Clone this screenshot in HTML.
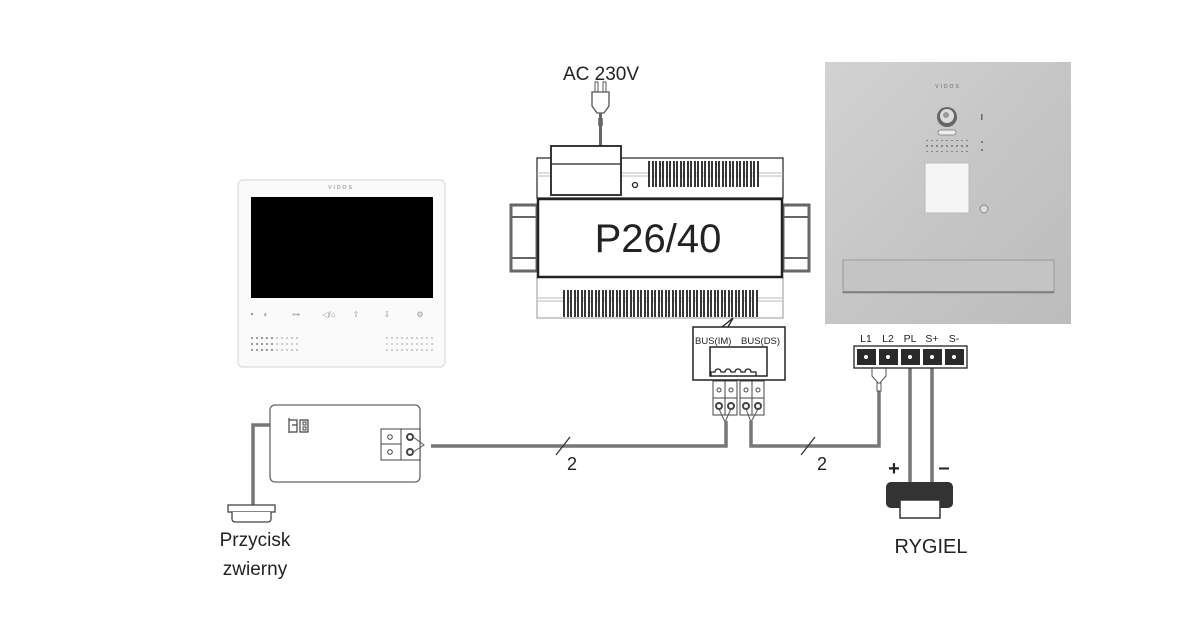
<!DOCTYPE html>
<html><head><meta charset="utf-8"><style>
html,body{margin:0;padding:0;background:#fff;}
svg{display:block;}
text{font-family:"Liberation Sans",sans-serif;}
</style></head><body>
<svg width="1200" height="624" viewBox="0 0 1200 624" xmlns="http://www.w3.org/2000/svg">
<defs>
 <pattern id="ventT" x="648" y="0" width="7" height="40" patternUnits="userSpaceOnUse">
  <rect x="1" y="0" width="4" height="40" rx="1.5" fill="#fff" stroke="#222" stroke-width="1.8"/>
 </pattern>
 <pattern id="ventB" x="563" y="0" width="7" height="40" patternUnits="userSpaceOnUse">
  <rect x="1" y="0" width="4" height="40" rx="1.5" fill="#fff" stroke="#222" stroke-width="1.8"/>
 </pattern>
 <linearGradient id="steel" x1="0" y1="0" x2="1" y2="1">
  <stop offset="0" stop-color="#d2d2d2"/><stop offset="0.5" stop-color="#c6c6c6"/><stop offset="1" stop-color="#bcbcbc"/>
 </linearGradient>
 <pattern id="dots" width="5" height="6" patternUnits="userSpaceOnUse"><circle cx="2" cy="2" r="0.9" fill="#aaa"/></pattern>
 <pattern id="dotsD" width="5" height="6" patternUnits="userSpaceOnUse"><circle cx="2" cy="2" r="0.9" fill="#555"/></pattern>
</defs>

<!-- Monitor -->
<rect x="238" y="180" width="207" height="187" rx="5" fill="#fafafa" stroke="#e2e2e2" stroke-width="1.5"/>
<text x="341" y="189" font-size="5" fill="#777" text-anchor="middle" letter-spacing="2">VIDOS</text>
<rect x="251" y="197" width="182" height="101" fill="#000"/>
<g fill="#999" font-size="8" text-anchor="middle">
 <circle cx="252" cy="314" r="1.2"/>
 <text x="266" y="317">◐</text><text x="296" y="317">⊶</text><text x="329" y="317">◁/⌂</text>
 <text x="356" y="317">⇧</text><text x="387" y="317">⇩</text><text x="420" y="317">⚙</text>
</g>
<rect x="250" y="333" width="25" height="21" fill="url(#dotsD)"/>
<rect x="275" y="333" width="25" height="21" fill="url(#dots)"/>
<rect x="383" y="333" width="50" height="21" fill="url(#dots)"/>

<!-- AC plug -->
<text x="601" y="80" font-size="19" fill="#222" text-anchor="middle">AC 230V</text>
<rect x="595" y="82" width="3" height="10" fill="#fff" stroke="#555"/>
<rect x="603" y="82" width="3" height="10" fill="#fff" stroke="#555"/>
<path d="M592 92 H609 V106 L604 113 H597 L592 106 Z" fill="#fff" stroke="#555" stroke-width="1.3"/>
<rect x="598" y="118" width="5" height="8" fill="#888"/>
<line x1="600.5" y1="113" x2="600.5" y2="146" stroke="#666" stroke-width="3"/>

<!-- P26/40 -->
<rect x="537" y="158" width="246" height="40" fill="#fff" stroke="#333" stroke-width="1.3"/>
<line x1="537" y1="173" x2="783" y2="173" stroke="#bbb"/><line x1="537" y1="176" x2="783" y2="176" stroke="#bbb"/>
<rect x="648" y="161" width="111" height="26" fill="url(#ventT)"/>
<rect x="551" y="146" width="70" height="49" fill="#fff" stroke="#222" stroke-width="1.8"/>
<line x1="551" y1="164" x2="621" y2="164" stroke="#222" stroke-width="1.3"/>
<circle cx="635" cy="185" r="2.5" fill="none" stroke="#222" stroke-width="1.3"/>
<rect x="511" y="205" width="26" height="66" fill="#fff" stroke="#666" stroke-width="3"/>
<rect x="783" y="205" width="26" height="66" fill="#fff" stroke="#666" stroke-width="3"/>
<line x1="511" y1="217" x2="537" y2="217" stroke="#666" stroke-width="2"/>
<line x1="511" y1="258" x2="537" y2="258" stroke="#666" stroke-width="2"/>
<line x1="783" y1="217" x2="809" y2="217" stroke="#666" stroke-width="2"/>
<line x1="783" y1="258" x2="809" y2="258" stroke="#666" stroke-width="2"/>
<rect x="537" y="277" width="246" height="41" fill="#fff" stroke="#999" stroke-width="1"/>
<line x1="537" y1="298" x2="783" y2="298" stroke="#bbb"/><line x1="537" y1="301" x2="783" y2="301" stroke="#bbb"/>
<rect x="563" y="290" width="195" height="27" fill="url(#ventB)"/>
<rect x="538" y="199" width="244" height="78" fill="#fff" stroke="#222" stroke-width="2.5"/>
<text x="658" y="252" font-size="40" fill="#222" text-anchor="middle">P26/40</text>

<!-- BUS box -->
<path d="M722 327 L733 318 L728 327" fill="none" stroke="#222" stroke-width="1.3"/>
<rect x="693" y="327" width="92" height="53" fill="#fff" stroke="#222" stroke-width="1.5"/>
<text x="695" y="344" font-size="9.5" fill="#222">BUS(IM)</text>
<text x="741" y="344" font-size="9.5" fill="#222">BUS(DS)</text>
<rect x="710" y="347" width="57" height="29" fill="#fff" stroke="#222" stroke-width="1.5"/>
<path d="M711 376 v-4 h4 a3 3 0 0 1 6 0 h4 a3 3 0 0 1 6 0 h4 a3 3 0 0 1 6 0 h4 a3 3 0 0 1 6 0 h5 v4" fill="none" stroke="#222" stroke-width="1.3"/>
<g fill="#fff" stroke="#444" stroke-width="1">
 <rect x="713" y="381" width="24" height="34"/><rect x="740" y="381" width="24" height="34"/>
 <line x1="725" y1="381" x2="725" y2="415"/><line x1="752" y1="381" x2="752" y2="415"/>
 <line x1="713" y1="398" x2="737" y2="398"/><line x1="740" y1="398" x2="764" y2="398"/>
 <circle cx="719" cy="390" r="2"/><circle cx="731" cy="390" r="2"/><circle cx="746" cy="390" r="2"/><circle cx="758" cy="390" r="2"/>
 <circle cx="719" cy="406" r="3" stroke-width="2"/><circle cx="731" cy="406" r="3" stroke-width="2"/><circle cx="746" cy="406" r="3" stroke-width="2"/><circle cx="758" cy="406" r="3" stroke-width="2"/>
</g>
<path d="M719 409 L725 422 L731 409 M746 409 L751 422 L758 409" fill="none" stroke="#555" stroke-width="1"/>

<!-- wires -->
<g fill="none" stroke="#777" stroke-width="3.5">
 <path d="M431 446 H726 V421"/>
 <path d="M751 421 V446 H879 V390"/>
 <path d="M910 360 V482 M932 360 V482"/>
 <path d="M290 425 H253 V505"/>
</g>
<line x1="556" y1="455" x2="570" y2="437" stroke="#333" stroke-width="1.3"/>
<line x1="801" y1="455" x2="815" y2="437" stroke="#333" stroke-width="1.3"/>
<text x="567" y="470" font-size="18" fill="#222">2</text>
<text x="817" y="470" font-size="18" fill="#222">2</text>

<!-- interface box -->
<rect x="270" y="405" width="150" height="77" rx="5" fill="#fff" stroke="#666" stroke-width="1.3"/>
<path d="M289 418 v15 M289 420 h8 v12 h-8 M292 425 h5 M300 420 h8 v12 h-8 z" fill="none" stroke="#444" stroke-width="1.2"/>
<rect x="303" y="422" width="3" height="3" fill="none" stroke="#444"/><rect x="303" y="427" width="3" height="3" fill="none" stroke="#444"/>
<g fill="#fff" stroke="#444" stroke-width="1">
 <rect x="381" y="429" width="39" height="31"/><line x1="401" y1="429" x2="401" y2="460"/><line x1="381" y1="444" x2="401" y2="444"/>
 <circle cx="390" cy="437" r="2.3"/><circle cx="390" cy="452" r="2.3"/>
 <circle cx="410" cy="437" r="3" stroke-width="2"/><circle cx="410" cy="452" r="3" stroke-width="2"/>
</g>
<path d="M413 437 L424 445 L413 452" fill="none" stroke="#555" stroke-width="1"/>

<!-- door button -->
<rect x="228" y="505" width="47" height="7" fill="#fff" stroke="#444" stroke-width="1.3"/>
<path d="M232 512 V519 a3 3 0 0 0 3 3 H268 a3 3 0 0 0 3 -3 V512" fill="#fff" stroke="#444" stroke-width="1.3"/>
<text x="255" y="546" font-size="19" fill="#222" text-anchor="middle">Przycisk</text>
<text x="255" y="575" font-size="19" fill="#222" text-anchor="middle">zwierny</text>

<!-- door station -->
<rect x="825" y="62" width="246" height="262" fill="url(#steel)"/>
<text x="948" y="88" font-size="5" fill="#666" text-anchor="middle" letter-spacing="2">VIDOS</text>
<circle cx="947" cy="117" r="10" fill="#666"/><circle cx="947" cy="116" r="7" fill="#ddd"/><circle cx="946" cy="115" r="3" fill="#999"/>
<rect x="938" y="130" width="18" height="5" rx="2.5" fill="#eee" stroke="#777" stroke-width="0.8"/>
<rect x="981" y="114" width="1.5" height="6" fill="#666"/>
<rect x="926" y="140" width="44" height="12" fill="url(#dotsD)"/>
<circle cx="982" cy="142" r="1" fill="#666"/><circle cx="982" cy="150" r="1" fill="#666"/>
<rect x="925" y="163" width="44" height="50" fill="#f5f5f5" stroke="#bbb"/>
<circle cx="984" cy="209" r="4" fill="#ddd" stroke="#888"/>
<rect x="843" y="260" width="211" height="33" fill="#c4c4c4" stroke="#999"/>
<line x1="843" y1="292" x2="1054" y2="292" stroke="#777" stroke-width="1.5"/>

<!-- terminal strip -->
<g font-size="10.5" fill="#222" text-anchor="middle">
 <text x="866" y="342">L1</text><text x="888" y="342">L2</text><text x="910" y="342">PL</text><text x="932" y="342">S+</text><text x="954" y="342">S-</text>
</g>
<rect x="854" y="346" width="113" height="22" fill="#fff" stroke="#222" stroke-width="1.3"/>
<g fill="#2a2a2a">
 <rect x="857" y="349" width="19" height="16"/><rect x="879" y="349" width="19" height="16"/><rect x="901" y="349" width="19" height="16"/><rect x="923" y="349" width="19" height="16"/><rect x="945" y="349" width="19" height="16"/>
</g>
<g fill="#fff"><circle cx="866" cy="357" r="2"/><circle cx="888" cy="357" r="2"/><circle cx="910" cy="357" r="2"/><circle cx="932" cy="357" r="2"/><circle cx="954" cy="357" r="2"/></g>
<path d="M872 367 V376 L879 384 L886 376 V367" fill="none" stroke="#555" stroke-width="1"/>
<rect x="877" y="383" width="4" height="8" fill="#fff" stroke="#555"/>

<!-- RYGIEL -->
<text x="894" y="475" font-size="20" font-weight="bold" fill="#222" text-anchor="middle">+</text>
<text x="944" y="474" font-size="20" font-weight="bold" fill="#222" text-anchor="middle">–</text>
<rect x="886" y="482" width="67" height="26" rx="5" fill="#333"/>
<rect x="900" y="500" width="40" height="18" fill="#fff" stroke="#333" stroke-width="1.5"/>
<text x="931" y="553" font-size="20" fill="#222" text-anchor="middle">RYGIEL</text>
</svg>
</body></html>
